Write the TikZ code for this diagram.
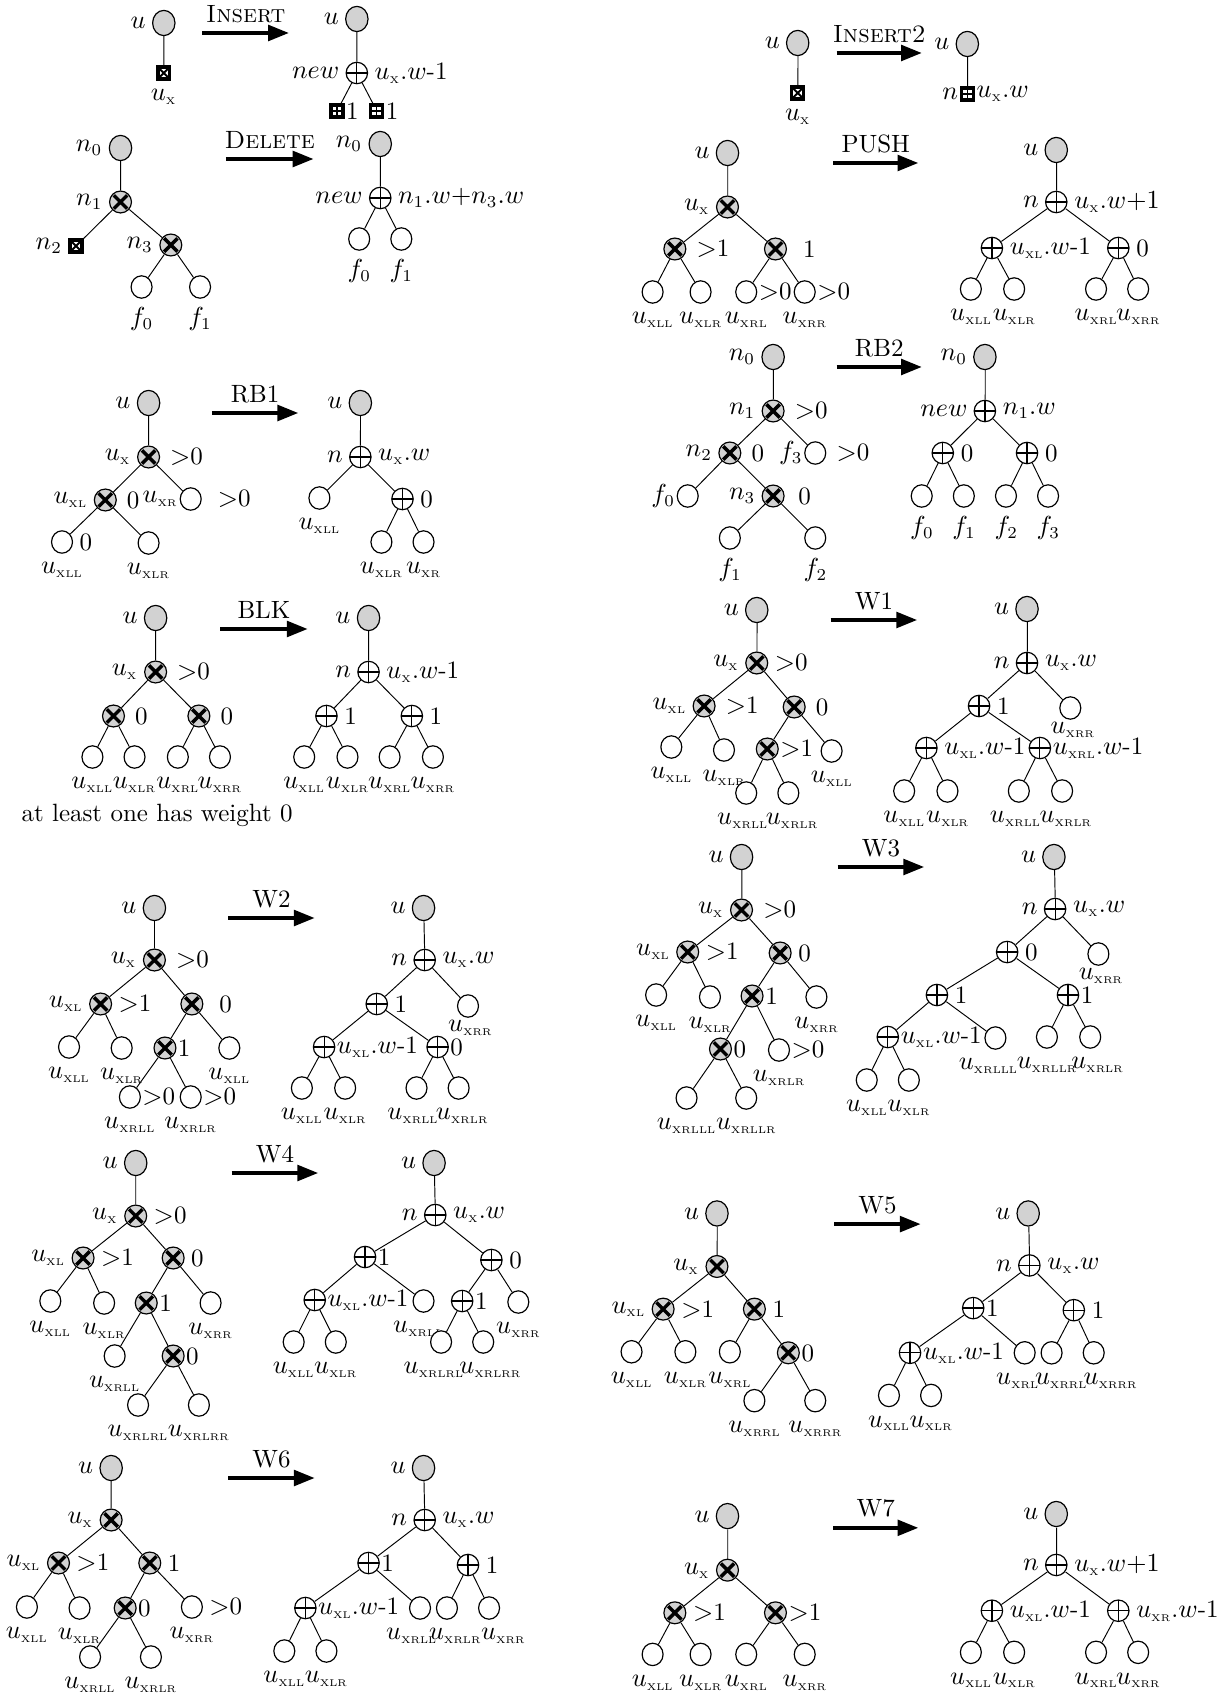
\documentclass[tikz,border=0pt]{standalone}
\usepackage{amsmath}
\usetikzlibrary{shapes.geometric,arrows.meta}
\newcommand\uu[1]{$u_{\mbox{\fontsize{4.1}{5}\selectfont\MakeUppercase{#1}}}$}
\tikzset{
 mnode/.style={draw,inner sep=0pt,line width=0.5pt},
 mroot/.style={mnode,ellipse,minimum width=9.4pt,minimum height=10.6pt,fill=gray!35},
 mcrs/.style={mnode,circle,minimum size=9.2pt,fill=gray!35,
   path picture={\draw[line width=1.45pt] ([shift={(-2.8pt,-2.8pt)}]path picture bounding box.center) -- ([shift={(2.8pt,2.8pt)}]path picture bounding box.center)
     ([shift={(-2.8pt,2.8pt)}]path picture bounding box.center) -- ([shift={(2.8pt,-2.8pt)}]path picture bounding box.center);}},
 mpls/.style={mnode,circle,minimum size=9pt,fill=white,
   path picture={\draw[line width=0.5pt] (path picture bounding box.north) -- (path picture bounding box.south)
     (path picture bounding box.west) -- (path picture bounding box.east);}},
 mlf/.style={mnode,ellipse,minimum width=8.8pt,minimum height=9.4pt,fill=white},
 mbx/.style={draw,line width=1.4pt,inner sep=0pt,minimum size=5pt,fill=white,
   path picture={\draw[line width=0.8pt] (path picture bounding box.south west) -- (path picture bounding box.north east)
     (path picture bounding box.north west) -- (path picture bounding box.south east);}},
 mbp/.style={draw,line width=1.4pt,inner sep=0pt,minimum size=5pt,fill=white,
   path picture={\draw[line width=0.6pt] (path picture bounding box.north) -- (path picture bounding box.south)
     (path picture bounding box.west) -- (path picture bounding box.east);}},
 marr/.style={line width=1.7pt,-{Triangle[length=8.8pt,width=6.5pt]}},
 mttl/.style={above=2pt,inner sep=1.5pt},
 Ll/.style={label={[inner sep=2.5pt]left:#1}},
 Llt/.style={label={[inner sep=0.6pt]left:#1}},
 Lr/.style={label={[inner sep=2.5pt]right:#1}},
 Lrw/.style={label={[inner sep=2.5pt,label distance=1.5pt]right:#1}},
 Lrt/.style={label={[inner sep=0.4pt]right:#1}},
 Lrd/.style 2 args={label={[inner sep=2.5pt,label distance=#1]right:#2}},
 Lb/.style={label={[inner sep=1pt,label distance=2.3pt]below:#1}},
 Lbc/.style={label={[inner sep=0.5pt,label distance=0.3pt,xshift=1pt]below:#1}},
 Lbs/.style 2 args={label={[inner sep=1pt,label distance=2.3pt,xshift=#1]below:#2}},
}
\begin{document}
\fontsize{10.5}{12.6}\selectfont
\begin{tikzpicture}[x=0.42pt,y=-0.42pt]
\useasboundingbox (0,0) rectangle (1228,1697);

% ======================= LEFT COLUMN =======================
\begin{scope}[xscale=1.17]
% ---------- INSERT ----------
\node[mroot,Ll={$u$}] (a1) at (140,23) {};
\node[mbx,Lb={\uu{x}}] (a2) at (140,73) {};
\draw (a1) -- (a2);
\coordinate (a3) at (173,33); \coordinate (a4) at (247,33);
\draw[marr] (a3) -- node[mttl] (a5) {\textsc{Insert}} (a4);
\node[mroot,Ll={$u$}] (a6) at (305,19) {};
\node[mpls,Ll={$new$},Lr={\uu{x}.$w$-1}] (a7) at (305,73) {};
\node[mbp,Lrt={1}] (a8) at (288,111) {};
\node[mbp,Lrt={1}] (a9) at (322,111) {};
\draw (a6) -- (a7) (a7) -- (a8) (a7) -- (a9);

% ---------- DELETE ----------
\node[mroot,Ll={$n_0$}] (b1) at (103,148) {};
\node[mcrs,Ll={$n_1$}] (b2) at (103,202) {};
\node[mbx,Ll={$n_2$}] (b3) at (65,246) {};
\node[mcrs,Ll={$n_3$}] (b4) at (146,245) {};
\node[mlf,Lb={$f_0$}] (b5) at (121,287) {};
\node[mlf,Lb={$f_1$}] (b6) at (171,287) {};
\draw (b1) -- (b2) (b2) -- (b3) (b2) -- (b4) (b4) -- (b5) (b4) -- (b6);
\coordinate (b11) at (193,159); \coordinate (b12) at (268,159);
\draw[marr] (b11) -- node[mttl] (b13) {\textsc{Delete}} (b12);
\node[mroot,Ll={$n_0$}] (b7) at (325,144) {};
\node[mpls,Ll={$new$},Lr={$n_1.w{+}n_3.w$}] (b8) at (325,198) {};
\node[mlf,Lb={$f_0$}] (b9) at (307,239) {};
\node[mlf,Lb={$f_1$}] (b10) at (343,239) {};
\draw (b7) -- (b8) (b8) -- (b9) (b8) -- (b10);

% ---------- RB1 ----------
\node[mroot,Ll={$u$}] (f1) at (127,403) {};
\node[mcrs,Ll={\uu{x}},Lrw={$>$0}] (f2) at (127,457) {};
\node[mcrs,Ll={\uu{xl}},Lrw={0}] (f3) at (90,500) {};
\node[mlf,Llt={\uu{xr}},Lrd={4pt}{$>$0}] (f4) at (163,499) {};
\node[mlf,Lr={0},Lb={\uu{xll}}] (f5) at (53,542) {};
\node[mlf,Lb={\uu{xlr}}] (f6) at (127,543) {};
\draw (f1) -- (f2) (f2) -- (f3) (f2) -- (f4) (f3) -- (f5) (f3) -- (f6);
\coordinate (f13) at (181,413); \coordinate (f14) at (255,413);
\draw[marr] (f13) -- node[mttl] (f15) {RB1} (f14);
\node[mroot,Ll={$u$}] (f7) at (308,403) {};
\node[mpls,Ll={$n$},Lr={\uu{x}.$w$}] (f8) at (308,457) {};
\node[mlf,Lb={\uu{xll}}] (f9) at (273,498) {};
\node[mpls,Lr={0}] (f10) at (344,499) {};
\node[mlf,Lb={\uu{xlr}}] (f11) at (326,542) {};
\node[mlf,Lb={\uu{xr}}] (f12) at (362,542) {};
\draw (f7) -- (f8) (f8) -- (f9) (f8) -- (f10) (f10) -- (f11) (f10) -- (f12);

% ---------- BLK ----------
\node[mroot,Ll={$u$}] (g1) at (133,618) {};
\node[mcrs,Ll={\uu{x}},Lrw={$>$0}] (g2) at (133,672) {};
\node[mcrs,Lrw={0}] (g3) at (97,716) {};
\node[mcrs,Lrw={0}] (g4) at (170,716) {};
\node[mlf,Lb={\uu{xll}}] (g5) at (79,757) {};
\node[mlf,Lb={\uu{xlr}}] (g6) at (115,757) {};
\node[mlf,Lb={\uu{xrl}}] (g7) at (152,757) {};
\node[mlf,Lb={\uu{xrr}}] (g8) at (188,757) {};
\draw (g1) -- (g2) (g2) -- (g3) (g2) -- (g4) (g3) -- (g5) (g3) -- (g6) (g4) -- (g7) (g4) -- (g8);
\node[anchor=west,inner sep=0pt] (g9) at (18,815) {at least one has weight 0};
\coordinate (g18) at (188,629); \coordinate (g19) at (263,629);
\draw[marr] (g18) -- node[mttl] (g20) {BLK} (g19);
\node[mroot,Ll={$u$}] (g10) at (315,618) {};
\node[mpls,Ll={$n$},Lr={\uu{x}.$w$-1}] (g11) at (315,672) {};
\node[mpls,Lr={1}] (g12) at (279,716) {};
\node[mpls,Lr={1}] (g13) at (352,716) {};
\node[mlf,Lb={\uu{xll}}] (g14) at (260,757) {};
\node[mlf,Lb={\uu{xlr}}] (g15) at (297,757) {};
\node[mlf,Lb={\uu{xrl}}] (g16) at (333,757) {};
\node[mlf,Lb={\uu{xrr}}] (g17) at (370,757) {};
\draw (g10) -- (g11) (g11) -- (g12) (g11) -- (g13) (g12) -- (g14) (g12) -- (g15) (g13) -- (g16) (g13) -- (g17);

% ---------- W2 ----------
\node[mroot,Ll={$u$}] (k1) at (132,908) {};
\node[mcrs,Ll={\uu{x}},Lrw={$>$0}] (k2) at (132,960) {};
\node[mcrs,Ll={\uu{xl}},Lr={$>$1}] (k3) at (86,1004) {};
\node[mcrs,Lrd={4pt}{0}] (k4) at (164,1004) {};
\node[mlf,Lb={\uu{xll}}] (k5) at (59,1047) {};
\node[mlf,Lb={\uu{xlr}}] (k6) at (104,1048) {};
\node[mcrs,Lrt={1}] (k7) at (141,1048) {};
\node[mlf,Lb={\uu{xll}}] (k8) at (196,1048) {};
\node[mlf,Lrt={$>$0},Lb={\uu{xrll}}] (k9) at (111,1097) {};
\node[mlf,Lrt={$>$0},Lb={\uu{xrlr}}] (k10) at (163,1097) {};
\draw (k1) -- (k2) (k2) -- (k3) (k2) -- (k4) (k3) -- (k5) (k3) -- (k6) (k4) -- (k7) (k4) -- (k8) (k7) -- (k9) (k7) -- (k10);
\coordinate (k21) at (195,918); \coordinate (k22) at (269,918);
\draw[marr] (k21) -- node[mttl] (k23) {W2} (k22);
\node[mroot,Ll={$u$}] (k11) at (362,908) {};
\node[mpls,Ll={$n$},Lr={\uu{x}.$w$}] (k12) at (363,960) {};
\node[mpls,Lr={1}] (k13) at (322,1004) {};
\node[mlf,Lbc={\uu{xrr}}] (k14) at (400,1006) {};
\node[mpls,Lrt={\uu{xl}.$w$-1}] (k15) at (277,1047) {};
\node[mpls,Lrt={0}] (k16) at (374,1047) {};
\node[mlf,Lb={\uu{xll}}] (k17) at (258,1088) {};
\node[mlf,Lb={\uu{xlr}}] (k18) at (295,1088) {};
\node[mlf,Lbs={-1.5pt}{\uu{xrll}}] (k19) at (356,1088) {};
\node[mlf,Lbs={1.5pt}{\uu{xrlr}}] (k20) at (392,1088) {};
\draw (k11) -- (k12) (k12) -- (k13) (k12) -- (k14) (k13) -- (k15) (k13) -- (k16) (k15) -- (k17) (k15) -- (k18) (k16) -- (k19) (k16) -- (k20);

% ---------- W4 ----------
\node[mroot,Ll={$u$}] (m1) at (116,1163) {};
\node[mcrs,Ll={\uu{x}},Lr={$>$0}] (m2) at (116,1216) {};
\node[mcrs,Ll={\uu{xl}},Lr={$>$1}] (m3) at (71,1258) {};
\node[mcrs,Lr={0}] (m4) at (148,1258) {};
\node[mlf,Lb={\uu{xll}}] (m5) at (43,1301) {};
\node[mlf,Lb={\uu{xlr}}] (m6) at (89,1303) {};
\node[mcrs,Lrt={1}] (m7) at (125,1303) {};
\node[mlf,Lb={\uu{xrr}}] (m8) at (180,1303) {};
\node[mlf,Lb={\uu{xrll}}] (m9) at (98,1356) {};
\node[mcrs,Lrt={0}] (m10) at (148,1356) {};
\node[mlf,Lb={\uu{xrlrl}}] (m11) at (118,1405) {};
\node[mlf,Lb={\uu{xrlrr}}] (m12) at (170,1405) {};
\draw (m1) -- (m2) (m2) -- (m3) (m2) -- (m4) (m3) -- (m5) (m3) -- (m6) (m4) -- (m7) (m4) -- (m8) (m7) -- (m9) (m7) -- (m10) (m10) -- (m11) (m10) -- (m12);
\coordinate (m25) at (198,1173); \coordinate (m26) at (272,1173);
\draw[marr] (m25) -- node[mttl] (m27) {W4} (m26);
\node[mroot,Ll={$u$}] (m13) at (371,1163) {};
\node[mpls,Ll={$n$},Lr={\uu{x}.$w$}] (m14) at (372,1215) {};
\node[mpls,Lrt={1}] (m15) at (312,1257) {};
\node[mpls,Lr={0}] (m16) at (420,1260) {};
\node[mpls,Lrt={\uu{xl}.$w$-1}] (m17) at (269,1300) {};
\node[mlf,Lbs={-2pt}{\uu{xrll}}] (m18) at (362,1301) {};
\node[mpls,Lrt={1}] (m19) at (395,1301) {};
\node[mlf,Lb={\uu{xrr}}] (m20) at (443,1302) {};
\node[mlf,Lb={\uu{xll}}] (m21) at (251,1342) {};
\node[mlf,Lb={\uu{xlr}}] (m22) at (287,1342) {};
\node[mlf,Lbs={-3pt}{\uu{xrlrl}}] (m23) at (377,1342) {};
\node[mlf,Lbs={3pt}{\uu{xrlrr}}] (m24) at (413,1342) {};
\draw (m13) -- (m14) (m14) -- (m15) (m14) -- (m16) (m15) -- (m17) (m15) -- (m18) (m16) -- (m19) (m16) -- (m20) (m17) -- (m21) (m17) -- (m22) (m19) -- (m23) (m19) -- (m24);

% ---------- W6 ----------
\node[mroot,Ll={$u$}] (q1) at (95,1468) {};
\node[mcrs,Ll={\uu{x}}] (q2) at (95,1520) {};
\node[mcrs,Ll={\uu{xl}},Lr={$>$1}] (q3) at (50,1563) {};
\node[mcrs,Lr={1}] (q4) at (128,1563) {};
\node[mlf,Lb={\uu{xll}}] (q5) at (23,1607) {};
\node[mlf,Lb={\uu{xlr}}] (q6) at (68,1608) {};
\node[mcrs,Lrt={0}] (q7) at (107,1608) {};
\node[mlf,Lr={$>$0},Lb={\uu{xrr}}] (q8) at (164,1607) {};
\node[mlf,Lb={\uu{xrll}}] (q9) at (77,1657) {};
\node[mlf,Lb={\uu{xrlr}}] (q10) at (129,1657) {};
\draw (q1) -- (q2) (q2) -- (q3) (q2) -- (q4) (q3) -- (q5) (q3) -- (q6) (q4) -- (q7) (q4) -- (q8) (q7) -- (q9) (q7) -- (q10);
\coordinate (q21) at (195,1478); \coordinate (q22) at (269,1478);
\draw[marr] (q21) -- node[mttl] (q23) {W6} (q22);
\node[mroot,Ll={$u$}] (q11) at (362,1468) {};
\node[mpls,Ll={$n$},Lr={\uu{x}.$w$}] (q12) at (363,1520) {};
\node[mpls,Lrt={1}] (q13) at (315,1563) {};
\node[mpls,Lr={1}] (q14) at (400,1565) {};
\node[mpls,Lrt={\uu{xl}.$w$-1}] (q15) at (261,1608) {};
\node[mlf,Lbs={-3.5pt}{\uu{xrll}}] (q16) at (359,1608) {};
\node[mlf,Lbs={3.5pt}{\uu{xrlr}}] (q17) at (382,1608) {};
\node[mlf,Lbs={6pt}{\uu{xrr}}] (q18) at (418,1608) {};
\node[mlf,Lb={\uu{xll}}] (q19) at (243,1651) {};
\node[mlf,Lb={\uu{xlr}}] (q20) at (279,1651) {};
\draw (q11) -- (q12) (q12) -- (q13) (q12) -- (q14) (q13) -- (q15) (q13) -- (q16) (q14) -- (q17) (q14) -- (q18) (q15) -- (q19) (q15) -- (q20);
\end{scope}

% ======================= RIGHT COLUMN =======================
\begin{scope}[shift={(614,0)},xscale=1.17,shift={(-614,0)}]
% ---------- INSERT2 ----------
\node[mroot,Ll={$u$}] (c1) at (771,43) {};
\node[mbx,Lb={\uu{x}}] (c2) at (771,93) {};
\draw (c1) -- (c2);
\coordinate (c5) at (804,53); \coordinate (c6) at (877,53);
\draw[marr] (c5) -- node[mttl] (c7) {\textsc{Insert2}} (c6);
\node[mroot,Ll={$u$}] (c3) at (916,44) {};
\node[mbp,Llt={$n$},Lrt={\uu{x}.$w$}] (c4) at (916,94) {};
\draw (c3) -- (c4);

% ---------- PUSH ----------
\node[mroot,Ll={$u$}] (d1) at (711,153) {};
\node[mcrs,Ll={\uu{x}}] (d2) at (711,207) {};
\node[mcrs,Lrw={$>$1}] (d3) at (666,249) {};
\node[mcrs,Lrd={4pt}{1}] (d4) at (752,249) {};
\node[mlf,Lb={\uu{xll}}] (d5) at (647,292) {};
\node[mlf,Lb={\uu{xlr}}] (d6) at (688,292) {};
\node[mlf,Lrt={$>$0},Lb={\uu{xrl}}] (d7) at (727,292) {};
\node[mlf,Lrt={$>$0},Lb={\uu{xrr}}] (d8) at (777,292) {};
\draw (d1) -- (d2) (d2) -- (d3) (d2) -- (d4) (d3) -- (d5) (d3) -- (d6) (d4) -- (d7) (d4) -- (d8);
\coordinate (d17) at (801,163); \coordinate (d18) at (874,163);
\draw[marr] (d17) -- node[mttl] (d19) {PUSH} (d18);
\node[mroot,Ll={$u$}] (d9) at (992,150) {};
\node[mpls,Ll={$n$},Lr={\uu{x}.$w{+}1$}] (d10) at (992,202) {};
\node[mpls,Lr={\uu{xl}.$w$-1}] (d11) at (937,248) {};
\node[mpls,Lr={0}] (d12) at (1045,248) {};
\node[mlf,Lb={\uu{xll}}] (d13) at (919,289) {};
\node[mlf,Lb={\uu{xlr}}] (d14) at (956,289) {};
\node[mlf,Lb={\uu{xrl}}] (d15) at (1026,289) {};
\node[mlf,Lb={\uu{xrr}}] (d16) at (1062,289) {};
\draw (d9) -- (d10) (d10) -- (d11) (d10) -- (d12) (d11) -- (d13) (d11) -- (d14) (d12) -- (d15) (d12) -- (d16);

% ---------- RB2 ----------
\node[mroot,Ll={$n_0$}] (e1) at (750,357) {};
\node[mcrs,Ll={$n_1$},Lrw={$>$0}] (e2) at (750,411) {};
\node[mcrs,Ll={$n_2$},Lrw={0}] (e3) at (713,453) {};
\node[mlf,Llt={$f_3$},Lrw={$>$0}] (e4) at (786,453) {};
\node[mlf,Llt={$f_0$}] (e5) at (677,496) {};
\node[mcrs,Ll={$n_3$},Lrd={3pt}{0}] (e6) at (750,496) {};
\node[mlf,Lb={$f_1$}] (e7) at (713,538) {};
\node[mlf,Lb={$f_2$}] (e8) at (786,538) {};
\draw (e1) -- (e2) (e2) -- (e3) (e2) -- (e4) (e3) -- (e5) (e3) -- (e6) (e6) -- (e7) (e6) -- (e8);
\coordinate (e17) at (804,367); \coordinate (e18) at (877,367);
\draw[marr] (e17) -- node[mttl] (e19) {RB2} (e18);
\node[mroot,Ll={$n_0$}] (e9) at (931,357) {};
\node[mpls,Ll={$new$},Lr={$n_1.w$}] (e10) at (931,411) {};
\node[mpls,Lr={0}] (e11) at (895,453) {};
\node[mpls,Lr={0}] (e12) at (967,453) {};
\node[mlf,Lb={$f_0$}] (e13) at (877,496) {};
\node[mlf,Lb={$f_1$}] (e14) at (913,496) {};
\node[mlf,Lb={$f_2$}] (e15) at (949,496) {};
\node[mlf,Lb={$f_3$}] (e16) at (985,496) {};
\draw (e9) -- (e10) (e10) -- (e11) (e10) -- (e12) (e11) -- (e13) (e11) -- (e14) (e12) -- (e15) (e12) -- (e16);

% ---------- W1 ----------
\node[mroot,Ll={$u$}] (h1) at (736,610) {};
\node[mcrs,Ll={\uu{x}},Lr={$>$0}] (h2) at (736,663) {};
\node[mcrs,Ll={\uu{xl}},Lrw={$>$1}] (h3) at (691,706) {};
\node[mcrs,Lrw={0}] (h4) at (768,707) {};
\node[mlf,Lb={\uu{xll}}] (h5) at (663,747) {};
\node[mlf,Lb={\uu{xlr}}] (h6) at (708,750) {};
\node[mcrs,Lrt={$>$1}] (h7) at (745,749) {};
\node[mlf,Lb={\uu{xll}}] (h8) at (800,751) {};
\node[mlf,Lbs={-1.5pt}{\uu{xrll}}] (h9) at (727,793) {};
\node[mlf,Lbs={1.5pt}{\uu{xrlr}}] (h10) at (763,793) {};
\draw (h1) -- (h2) (h2) -- (h3) (h2) -- (h4) (h3) -- (h5) (h3) -- (h6) (h4) -- (h7) (h4) -- (h8) (h7) -- (h9) (h7) -- (h10);
\coordinate (h21) at (799,620); \coordinate (h22) at (873,620);
\draw[marr] (h21) -- node[mttl] (h23) {W1} (h22);
\node[mroot,Ll={$u$}] (h11) at (967,609) {};
\node[mpls,Ll={$n$},Lr={\uu{x}.$w$}] (h12) at (967,663) {};
\node[mpls,Lr={1}] (h13) at (926,706) {};
\node[mlf,Lbc={\uu{xrr}}] (h14) at (1004,708) {};
\node[mpls,Lr={\uu{xl}.$w$-1}] (h15) at (881,748) {};
\node[mpls,Lrt={\uu{xrl}.$w$-1}] (h16) at (978,748) {};
\node[mlf,Lb={\uu{xll}}] (h17) at (862,791) {};
\node[mlf,Lb={\uu{xlr}}] (h18) at (899,791) {};
\node[mlf,Lbs={-1.5pt}{\uu{xrll}}] (h19) at (960,791) {};
\node[mlf,Lbs={1.5pt}{\uu{xrlr}}] (h20) at (997,791) {};
\draw (h11) -- (h12) (h12) -- (h13) (h12) -- (h14) (h13) -- (h15) (h13) -- (h16) (h15) -- (h17) (h15) -- (h18) (h16) -- (h19) (h16) -- (h20);

% ---------- W3 ----------
\node[mroot,Ll={$u$}] (r1) at (723,857) {};
\node[mcrs,Ll={\uu{x}},Lrw={$>$0}] (r2) at (723,910) {};
\node[mcrs,Ll={\uu{xl}},Lr={$>$1}] (r3) at (677,952) {};
\node[mcrs,Lr={0}] (r4) at (756,953) {};
\node[mlf,Lb={\uu{xll}}] (r5) at (650,995) {};
\node[mlf,Lb={\uu{xlr}}] (r6) at (696,997) {};
\node[mcrs,Lrt={1}] (r7) at (732,996) {};
\node[mlf,Lb={\uu{xrr}}] (r8) at (787,997) {};
\node[mcrs,Lrt={0}] (r9) at (705,1049) {};
\node[mlf,Lrt={$>$0},Lb={\uu{xrlr}}] (r10) at (755,1050) {};
\node[mlf,Lb={\uu{xrlll}}] (r11) at (676,1098) {};
\node[mlf,Lb={\uu{xrllr}}] (r12) at (727,1098) {};
\draw (r1) -- (r2) (r2) -- (r3) (r2) -- (r4) (r3) -- (r5) (r3) -- (r6) (r4) -- (r7) (r4) -- (r8) (r7) -- (r9) (r7) -- (r10) (r9) -- (r11) (r9) -- (r12);
\coordinate (r25) at (805,867); \coordinate (r26) at (879,867);
\draw[marr] (r25) -- node[mttl] (r27) {W3} (r26);
\node[mroot,Ll={$u$}] (r13) at (990,857) {};
\node[mpls,Ll={$n$},Lr={\uu{x}.$w$}] (r14) at (991,909) {};
\node[mpls,Lr={0}] (r15) at (950,952) {};
\node[mlf,Lbc={\uu{xrr}}] (r16) at (1028,954) {};
\node[mpls,Lr={1}] (r17) at (890,995) {};
\node[mpls,Lrt={1}] (r18) at (1002,995) {};
\node[mpls,Lrt={\uu{xl}.$w$-1}] (r19) at (848,1037) {};
\node[mlf,Lbs={-3pt}{\uu{xrlll}}] (r20) at (940,1038) {};
\node[mlf,Lb={\uu{xrllr}}] (r21) at (984,1037) {};
\node[mlf,Lbs={3pt}{\uu{xrlr}}] (r22) at (1021,1037) {};
\node[mlf,Lb={\uu{xll}}] (r23) at (830,1080) {};
\node[mlf,Lb={\uu{xlr}}] (r24) at (866,1080) {};
\draw (r13) -- (r14) (r14) -- (r15) (r14) -- (r16) (r15) -- (r17) (r15) -- (r18) (r17) -- (r19) (r17) -- (r20) (r18) -- (r21) (r18) -- (r22) (r19) -- (r23) (r19) -- (r24);

\begin{scope}[shift={(0,1150)},yscale=1.04,shift={(0,-1150)}]
% ---------- W5 ----------
\node[mroot,Ll={$u$}] (s1) at (702,1211) {};
\node[mcrs,Ll={\uu{x}}] (s2) at (702,1262) {};
\node[mcrs,Ll={\uu{xl}},Lr={$>$1}] (s3) at (656,1303) {};
\node[mcrs,Lr={1}] (s4) at (734,1303) {};
\node[mlf,Lb={\uu{xll}}] (s5) at (629,1344) {};
\node[mlf,Lb={\uu{xlr}}] (s6) at (675,1344) {};
\node[mlf,Lb={\uu{xrl}}] (s7) at (713,1344) {};
\node[mcrs,Lrt={0}] (s8) at (763,1345) {};
\node[mlf,Lb={\uu{xrrl}}] (s9) at (734,1391) {};
\node[mlf,Lb={\uu{xrrr}}] (s10) at (786,1391) {};
\draw (s1) -- (s2) (s2) -- (s3) (s2) -- (s4) (s3) -- (s5) (s3) -- (s6) (s4) -- (s7) (s4) -- (s8) (s8) -- (s9) (s8) -- (s10);
\coordinate (s21) at (802,1221); \coordinate (s22) at (876,1221);
\draw[marr] (s21) -- node[mttl] (s23) {W5} (s22);
\node[mroot,Ll={$u$}] (s11) at (968,1211) {};
\node[mpls,Ll={$n$},Lr={\uu{x}.$w$}] (s12) at (969,1261) {};
\node[mpls,Lrt={1}] (s13) at (921,1302) {};
\node[mpls,Lr={1}] (s14) at (1007,1304) {};
\node[mpls,Lrt={\uu{xl}.$w$-1}] (s15) at (867,1345) {};
\node[mlf,Lbs={-3pt}{\uu{xrl}}] (s16) at (965,1345) {};
\node[mlf,Lbs={4pt}{\uu{xrrl}}] (s17) at (988,1345) {};
\node[mlf,Lbs={7pt}{\uu{xrrr}}] (s18) at (1024,1345) {};
\node[mlf,Lb={\uu{xll}}] (s19) at (849,1386) {};
\node[mlf,Lb={\uu{xlr}}] (s20) at (885,1386) {};
\draw (s11) -- (s12) (s12) -- (s13) (s12) -- (s14) (s13) -- (s15) (s13) -- (s16) (s14) -- (s17) (s14) -- (s18) (s15) -- (s19) (s15) -- (s20);

% ---------- W7 ----------
\node[mroot,Ll={$u$}] (t1) at (711,1502) {};
\node[mcrs,Ll={\uu{x}}] (t2) at (711,1554) {};
\node[mcrs,Lr={$>$1}] (t3) at (666,1595) {};
\node[mcrs,Lrt={$>$1}] (t4) at (752,1595) {};
\node[mlf,Lb={\uu{xll}}] (t5) at (647,1635) {};
\node[mlf,Lb={\uu{xlr}}] (t6) at (688,1635) {};
\node[mlf,Lb={\uu{xrl}}] (t7) at (727,1635) {};
\node[mlf,Lb={\uu{xrr}}] (t8) at (777,1635) {};
\draw (t1) -- (t2) (t2) -- (t3) (t2) -- (t4) (t3) -- (t5) (t3) -- (t6) (t4) -- (t7) (t4) -- (t8);
\coordinate (t17) at (801,1513); \coordinate (t18) at (874,1513);
\draw[marr] (t17) -- node[mttl] (t19) {W7} (t18);
\node[mroot,Ll={$u$}] (t9) at (992,1500) {};
\node[mpls,Ll={$n$},Lr={\uu{x}.$w{+}1$}] (t10) at (992,1549) {};
\node[mpls,Lr={\uu{xl}.$w$-1}] (t11) at (937,1593) {};
\node[mpls,Lr={\uu{xr}.$w$-1}] (t12) at (1045,1593) {};
\node[mlf,Lb={\uu{xll}}] (t13) at (919,1633) {};
\node[mlf,Lb={\uu{xlr}}] (t14) at (956,1633) {};
\node[mlf,Lb={\uu{xrl}}] (t15) at (1026,1633) {};
\node[mlf,Lb={\uu{xrr}}] (t16) at (1062,1633) {};
\draw (t9) -- (t10) (t10) -- (t11) (t10) -- (t12) (t11) -- (t13) (t11) -- (t14) (t12) -- (t15) (t12) -- (t16);
\end{scope}
\end{scope}
\end{tikzpicture}
\end{document}
